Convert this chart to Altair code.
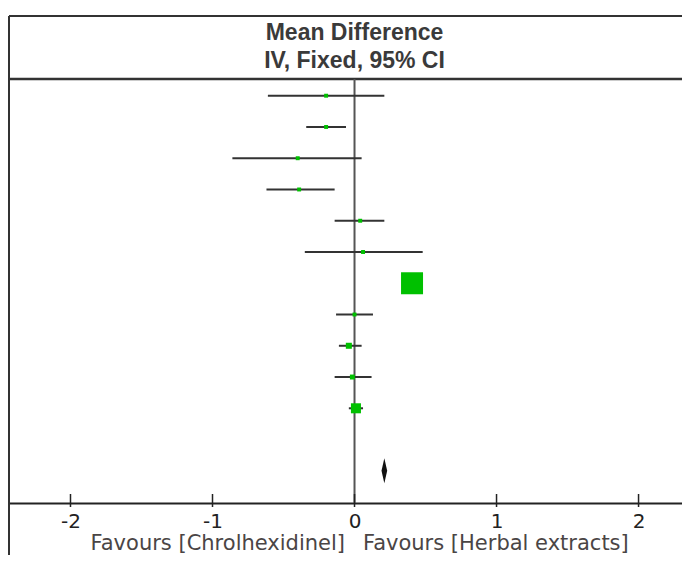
import altair as alt
import pandas as pd

# ---- data ----
rows = [0, 1, 2, 3, 4, 5, 6, 7, 8, 9, 10]
est = [-0.20, -0.20, -0.40, -0.39, 0.04, 0.06, 0.405, 0.00, -0.04, -0.015, 0.01]
lo = [-0.61, -0.34, -0.86, -0.62, -0.14, -0.35, 0.37, -0.13, -0.11, -0.14, -0.04]
hi = [0.21, -0.06, 0.05, -0.14, 0.21, 0.48, 0.44, 0.13, 0.05, 0.12, 0.06]
weight = [2.1, 2.1, 2.1, 2.1, 2.1, 2.1, 65.4, 2.1, 4.9, 3.3, 13.6]

pooled_row = [11.6, 12.0, 12.4]
pooled_mid = [0.21, 0.19, 0.21]
pooled_end = [0.21, 0.23, 0.21]

tick_values = [-2, -1, 0, 1, 2]
header_top = "Mean Difference"
header_bottom = "IV, Fixed, 95% CI"
favours_left = "Favours [Chrolhexidinel]"
favours_right = "Favours [Herbal extracts]"

W, H = 673, 487

studies = pd.DataFrame({"row": rows, "est": est, "lo": lo, "hi": hi, "w": weight})
diamond = pd.DataFrame({"row": pooled_row, "a": pooled_mid, "b": pooled_end})
ticks = pd.DataFrame({"t": tick_values})
one = pd.DataFrame({"k": [0]})

xscale = alt.Scale(domain=[-2.433, 2.306], nice=False, zero=False)
yscale = alt.Scale(domain=[-2.55, 13.03], reverse=True, nice=False, zero=False)

xaxis = alt.Axis(values=tick_values, ticks=False, grid=False, title=None,
                 domainColor="#222", domainWidth=2,
                 labelFont="DejaVu Sans", labelFontSize=20, labelColor="#222",
                 labelPadding=8, labelExpr="datum.value + ''")

ci = alt.Chart(studies).mark_rule(color="#333", strokeWidth=2).encode(
    x=alt.X("lo:Q", scale=xscale, axis=xaxis),
    x2="hi:Q",
    y=alt.Y("row:Q", scale=yscale, axis=None),
)

pts = alt.Chart(studies).mark_square(color="#00C000", opacity=1).encode(
    x=alt.X("est:Q", scale=xscale),
    y=alt.Y("row:Q", scale=yscale),
    size=alt.Size("w:Q", scale=alt.Scale(domain=[0, 65.4], range=[0, 484]), legend=None),
)

dia = alt.Chart(diamond).mark_area(orient="horizontal", color="#111").encode(
    y=alt.Y("row:Q", scale=yscale),
    x=alt.X("a:Q", scale=xscale),
    x2="b:Q",
)

zero_line = alt.Chart(one).mark_rule(color="#555", strokeWidth=2).encode(
    x=alt.datum(0), y=alt.value(63), y2=alt.value(H)
)

tick_marks = alt.Chart(ticks).mark_rule(color="#222", strokeWidth=1.5).encode(
    x=alt.X("t:Q", scale=xscale), y=alt.value(478), y2=alt.value(491)
)

top_border = alt.Chart(one).mark_rule(color="#333", strokeWidth=2).encode(
    x=alt.value(0), x2=alt.value(W + 5), y=alt.value(0)
)
header_line = alt.Chart(one).mark_rule(color="#333", strokeWidth=2.5).encode(
    x=alt.value(0), x2=alt.value(W + 5), y=alt.value(63)
)
left_border = alt.Chart(one).mark_rule(color="#333", strokeWidth=2).encode(
    x=alt.value(0), y=alt.value(0), y2=alt.value(560)
)

h1 = alt.Chart(one).mark_text(text=header_top, font="Liberation Sans", fontSize=23,
                              fontWeight="bold", color="#3a3a3a", align="center",
                              baseline="alphabetic").encode(x=alt.datum(0), y=alt.value(24))
h2 = alt.Chart(one).mark_text(text=header_bottom, font="Liberation Sans", fontSize=23,
                              fontWeight="bold", color="#3a3a3a", align="center",
                              baseline="alphabetic").encode(x=alt.datum(0), y=alt.value(52))

fl = alt.Chart(one).mark_text(text=favours_left, font="DejaVu Sans", fontSize=21,
                              color="#4a4545", align="right", dx=-9.5,
                              baseline="alphabetic").encode(x=alt.datum(0), y=alt.value(534))
fr = alt.Chart(one).mark_text(text=favours_right, font="DejaVu Sans", fontSize=21,
                              color="#4a4545", align="left", dx=8.5,
                              baseline="alphabetic").encode(x=alt.datum(0), y=alt.value(534))

chart = alt.layer(
    top_border, header_line, left_border, zero_line, tick_marks,
    ci, pts, dia, h1, h2, fl, fr
).properties(
    width=W, height=H,
    padding={"left": 1, "top": 8, "right": 0, "bottom": 52},
    autosize=alt.AutoSizeParams(type="none"),
).configure_view(stroke=None)

chart.save("out.html", embed_options={"renderer": "svg", "actions": False})
